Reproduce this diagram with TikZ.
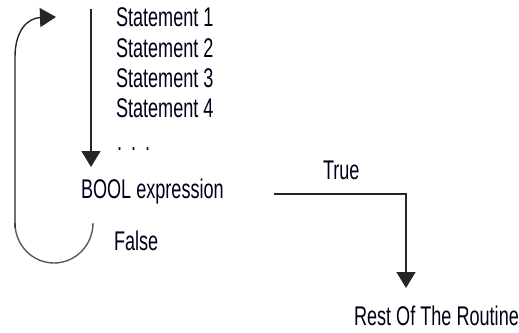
\documentclass[tikz,border=0pt]{standalone}
\usepackage{fontspec}
\setmainfont{Liberation Sans}[FakeStretch=0.67]
\usetikzlibrary{arrows.meta}
\begin{document}
\begin{tikzpicture}[x=1pt,y=-1pt,
  lbl/.style={anchor=base west,inner sep=0pt,outer sep=0pt,font=\fontsize{27}{27}\selectfont,text=black!90!blue},
  conn/.style={line width=1.4pt,draw=black!85},
  tip/.style={-{Triangle[width=19pt,length=16pt]}}]
\useasboundingbox (0,0) rectangle (519,332);
\node[lbl] (s1) at (116,27) {Statement 1};
\node[lbl] (s2) at (116,57) {Statement 2};
\node[lbl] (s3) at (116,87) {Statement 3};
\node[lbl] (s4) at (116,117) {Statement 4};
\node[lbl] (dots) at (117,150) {.\,\,.\,\,.};
\node[lbl] (bool) at (81,198) {BOOL expression};
\node[lbl] (true) at (323,179) {True};
\node[lbl] (false) at (114,250) {False};
\node[lbl] (rest) at (354,325) {Rest Of The Routine};
% main downward arrow
\coordinate (top) at (91,9);
\coordinate (downend) at (91,167);
\draw[conn,tip] (top) -- (downend);
% true branch
\coordinate (tstart) at (274,194);
\coordinate (tcorner) at (406,194);
\coordinate (tend) at (406,288);
\draw[conn,tip] (tstart) -- (tcorner) -- (tend);
% false loop
\coordinate (lstart) at (93,223);
\coordinate (lleft) at (15,228);
\coordinate (lup) at (15,57);
\coordinate (ltip) at (56,17);
\draw[conn,draw=black!65] (lstart) arc[start angle=0,end angle=180,x radius=39,y radius=40];
\draw[conn,tip] (lleft) -- (lup) .. controls (15,30) and (28,18) .. (ltip);
\end{tikzpicture}
\end{document}
